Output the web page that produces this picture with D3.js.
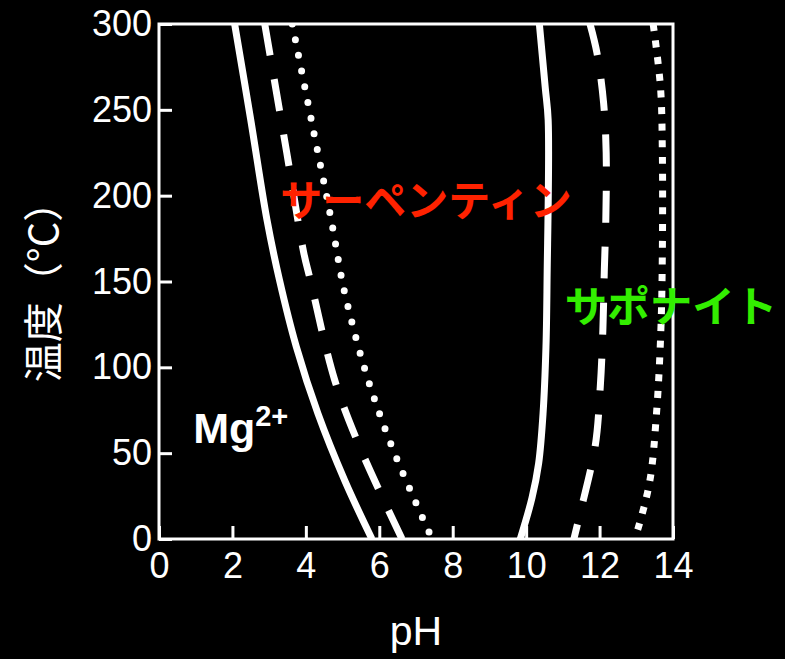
<!DOCTYPE html>
<html>
<head>
<meta charset="utf-8">
<script src="https://cdn.jsdelivr.net/npm/d3@7"></script>
<style>
  body { margin: 0; background: #000; }
  svg { display: block; background: #000; }
</style>
</head>
<body>
<svg id="chart"></svg>
<script>
// temperature (°C), pH pairs
var solidLeft = [[300,2.06],[244,2.50],[186,2.94],[151,3.28],[112,3.74],[73,4.33],[34,5.06],[0,5.80]];
var dashLeft  = [[300,2.88],[225,3.48],[167,3.94],[151,4.12],[93,4.78],[54,5.46],[0,6.62]];
var dotLeft   = [[300,3.63],[244,4.15],[186,4.69],[157,4.93],[147,5.02],[100,5.59],[54,6.34],[0,7.44]];
var solidRight = [[300,10.36],[263,10.52],[244,10.60],[151,10.57],[112,10.54],[73,10.46],[44,10.34],[24,10.16],[0,9.84]];
var dashRight  = [[300,11.74],[283,11.93],[254,12.11],[225,12.18],[186,12.17],[157,12.13],[122,12.09],[89,12.02],[54,11.88],[15,11.47],[0,11.30]];
var dotRight   = [[300,13.46],[263,13.66],[225,13.71],[167,13.71],[122,13.67],[73,13.55],[34,13.37],[7,13.06],[0,12.95]];

var xTicks = [0,2,4,6,8,10,12,14];
var yTicks = [0,50,100,150,200,250,300];

var margin = {top: 24, right: 112, bottom: 120, left: 159};
var W = 785, H = 659;
var width = W - margin.left - margin.right;
var height = H - margin.top - margin.bottom;

var x = d3.scaleLinear().domain([0, 14]).range([0, width]);
var y = d3.scaleLinear().domain([0, 300]).range([height, 0]);

var svg = d3.select("#chart").attr("width", W).attr("height", H);
var g = svg.append("g").attr("transform", "translate(" + margin.left + "," + margin.top + ")");

var latin = "'Liberation Sans', Arial, sans-serif";
var cjk = "'Noto Sans CJK JP', 'Noto Sans', sans-serif";

// x axis
var xa = g.append("g")
  .attr("transform", "translate(0," + height + ")")
  .call(d3.axisBottom(x).tickValues(xTicks).tickSizeInner(-13).tickSizeOuter(0).tickPadding(13));
// y axis
var ya = g.append("g")
  .call(d3.axisLeft(y).tickValues(yTicks).tickSizeInner(-13).tickSizeOuter(0).tickPadding(7));

[xa, ya].forEach(function(a) {
  a.select(".domain").remove();
  a.selectAll("line").attr("stroke", "#fff").attr("stroke-width", 3);
  a.selectAll("text").attr("fill", "#fff").style("font-family", latin).style("font-size", "36px");
});

// curves
var line = d3.line()
  .x(function(d) { return x(d[1]); })
  .y(function(d) { return y(d[0]); })
  .curve(d3.curveCatmullRom.alpha(0.5));

svg.append("defs").append("clipPath").attr("id", "plotclip")
  .append("rect").attr("x", 0).attr("y", 0).attr("width", width).attr("height", height);

var curves = g.append("g").attr("clip-path", "url(#plotclip)");

function draw(data, dash, cap) {
  curves.append("path")
    .datum(data)
    .attr("d", line)
    .attr("fill", "none")
    .attr("stroke", "#fff")
    .attr("stroke-width", 7)
    .attr("stroke-linecap", cap)
    .attr("stroke-dasharray", dash);
}
draw(solidLeft, null, "butt");
draw(dashLeft, "32 24", "butt");
draw(dotLeft, "0 16", "round");
draw(solidRight, null, "butt");
draw(dashRight, "32 24", "butt");
draw(dotRight, "7 9.7", "butt");

// frame
g.append("rect")
  .attr("width", width).attr("height", height)
  .attr("fill", "none").attr("stroke", "#fff").attr("stroke-width", 3);

// labels
g.append("text")
  .attr("x", x(0.93)).attr("y", y(50) - 10)
  .attr("fill", "#fff")
  .style("font-family", latin).style("font-size", "43px").style("font-weight", "bold")
  .text("Mg")
  .append("tspan").attr("dy", -17).style("font-size", "29px").text("2+");

g.append("text")
  .attr("x", x(3.3)).attr("y", y(200) + 20)
  .attr("fill", "#ff2200")
  .style("font-family", cjk).style("font-size", "42px").style("font-weight", "bold")
  .text("サーペンティン");

g.append("text")
  .attr("x", x(11.05)).attr("y", y(137) + 18)
  .attr("fill", "#33ee00")
  .style("font-family", cjk).style("font-size", "42.5px").style("font-weight", "bold")
  .text("サポナイト");

// axis titles
svg.append("text")
  .attr("x", margin.left + x(7)).attr("y", 645)
  .attr("text-anchor", "middle")
  .attr("fill", "#fff")
  .style("font-family", latin).style("font-size", "41px")
  .text("pH");

svg.append("text")
  .attr("transform", "translate(58," + 282 + ") rotate(-90)")
  .attr("text-anchor", "middle")
  .attr("fill", "#fff")
  .style("font-family", cjk).style("font-size", "40px")
  .text("温度（°C）");
</script>
</body>
</html>
